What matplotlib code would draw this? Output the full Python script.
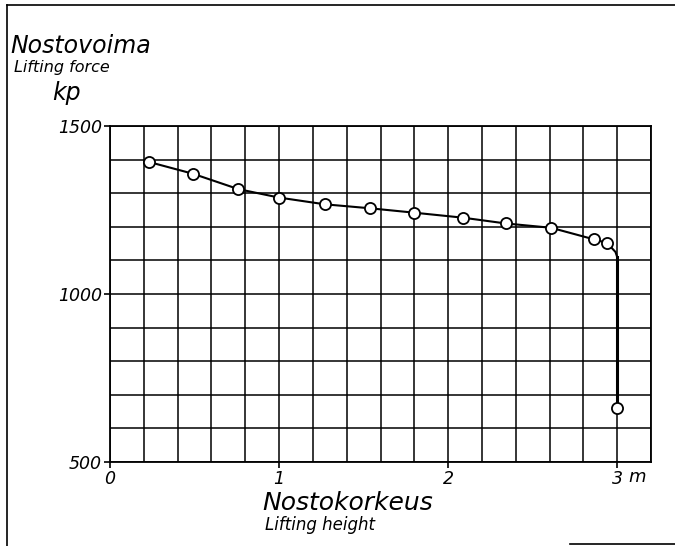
import matplotlib
matplotlib.use('Agg')
import matplotlib.pyplot as plt
from matplotlib.lines import Line2D
from matplotlib.ticker import MultipleLocator

# measured points (lifting height m, lifting force kp)
height_m = [0.23, 0.49, 0.76, 1.0, 1.27, 1.54, 1.8, 2.09, 2.34, 2.61, 2.86, 2.94, 3.0]
force_kp = [1393, 1358, 1312, 1287, 1267, 1255, 1242, 1227, 1210, 1197, 1163, 1152, 662]

# where the curve bends down before the last point
bend_m = [2.94, 2.99, 3.0]
bend_kp = [1152, 1125, 1110]

x_ticks = [0, 1, 2, 3]
x_ticklabels = ['0', '1', '2', '3']
y_ticks = [500, 1000, 1500]

fig = plt.figure(figsize=(6.75, 5.46), dpi=100)
ax = fig.add_axes([110 / 675, 84 / 546, 541 / 675, 336 / 546])

ax.set_xlim(0, 3.2)
ax.set_ylim(500, 1500)
ax.set_xticks(x_ticks)
ax.set_xticklabels(x_ticklabels)
ax.set_yticks(y_ticks)
ax.xaxis.set_minor_locator(MultipleLocator(0.2))
ax.yaxis.set_minor_locator(MultipleLocator(100))
ax.grid(which='both', color='black', linewidth=1.1)
ax.set_axisbelow(True)
for s in ax.spines.values():
    s.set_linewidth(1.3)
ax.tick_params(which='minor', length=0)
ax.tick_params(which='major', length=4, width=1.2, direction='out', pad=2)
for lab in ax.get_xticklabels() + ax.get_yticklabels():
    lab.set_fontsize(12.5)
    lab.set_fontstyle('italic')

# curve: smooth part, bend, vertical drop
ax.plot(height_m[:-1], force_kp[:-1], color='black', linewidth=1.5, zorder=3)
ax.plot(bend_m, bend_kp, color='black', linewidth=1.5, zorder=3)
ax.plot([bend_m[-1], height_m[-1]], [bend_kp[-1], force_kp[-1]], color='black', linewidth=2.2, zorder=3)
ax.plot(height_m, force_kp, 'o', color='black', markerfacecolor='white',
        markersize=8, markeredgewidth=1.3, zorder=4, clip_on=False)

# unit next to the last x tick label
ax.text(3.12, -0.018, 'm', transform=ax.get_xaxis_transform(), fontsize=13,
        fontstyle='italic', ha='center', va='top')

# axis titles in Finnish and English
fig.text(10 / 675, 1 - 53 / 546, 'Nostovoima', fontsize=17, fontstyle='italic')
fig.text(14 / 675, 1 - 72 / 546, 'Lifting force', fontsize=11.5, fontstyle='italic')
fig.text(52 / 675, 1 - 100 / 546, 'kp', fontsize=17, fontstyle='italic')
fig.text(262 / 675, 1 - 510 / 546, 'Nostokorkeus', fontsize=18, fontstyle='italic')
fig.text(265 / 675, 1 - 530 / 546, 'Lifting height', fontsize=12, fontstyle='italic')

# page frame
fig.add_artist(Line2D([7 / 675, 1], [1 - 5 / 546, 1 - 5 / 546], color='black', linewidth=1.2))
fig.add_artist(Line2D([7 / 675, 7 / 675], [0, 1 - 5 / 546], color='black', linewidth=1.2))
fig.add_artist(Line2D([570 / 675, 1], [1 - 544 / 546, 1 - 544 / 546], color='black', linewidth=1.2))

fig.savefig('out.png', dpi=100)
